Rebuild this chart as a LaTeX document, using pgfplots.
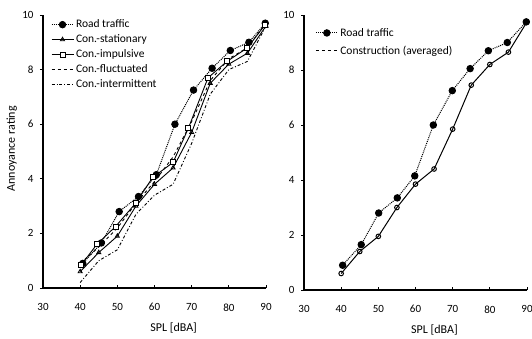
\documentclass[border=0pt]{standalone}
\usepackage{pgfplots}
\pgfplotsset{compat=1.18}
\usepackage{fontspec}
\setmainfont{Carlito}
\begin{document}
\begin{tikzpicture}
\useasboundingbox (0pt,0pt) rectangle (532pt,338pt);
\pgfplotsset{
  myax/.style={
    scale only axis,
    xmin=30, xmax=90, ymin=0, ymax=10,
    xtick={30,40,...,90}, ytick={0,2,...,10},
    axis x line*=bottom, axis y line*=left,
    axis line style={line width=1.3pt,-},
    tick style={black, line width=0.8pt},
    major tick length=3pt,
    xtick align=inside, ytick align=outside,
    tick label style={font=\fontsize{11}{13}\selectfont},
    /pgf/number format/assume math mode=true,
    xticklabel style={yshift=-12pt},
    yticklabel style={xshift=-3pt},
    label style={font=\fontsize{12}{14}\selectfont},
    legend style={draw=none, fill=none, font=\fontsize{11.5}{13}\selectfont, row sep=1.5pt, inner sep=0pt,
      legend cell align=left, nodes={inner xsep=2pt}},
    legend image code/.code={\draw[#1] (0pt,0pt) -- (22pt,0pt); \draw[#1, only marks] plot coordinates {(11pt,0pt)};},
  },
  road/.style={black, densely dotted, line width=1pt, mark=*, mark size=3.2pt, mark options={solid, fill=black}},
}
% left panel
\begin{axis}[myax, at={(43pt,50pt)}, anchor=origin, width=223pt, height=273pt,
  xlabel={SPL [dBA]}, ylabel={Annoyance rating},
  xlabel style={at={(axis description cs:0.586,-0.146)}, anchor=center},
  ylabel style={at={(axis description cs:-0.14,0.51)}, anchor=center},
  legend style={at={(axis description cs:0.035,0.99)}, anchor=north west},
]
\addplot[road] coordinates {(40.7,0.9) (45.7,1.65) (50.5,2.8) (55.7,3.35) (60.5,4.15) (65.5,6.0) (70.5,7.25) (75.5,8.05) (80.4,8.7) (85.4,9.0) (89.8,9.7)};
\addlegendentry{Road traffic}
\addplot[black, line width=0.9pt, mark=triangle, mark size=2.3pt, mark options={fill=white, solid}] coordinates {(40,0.6) (45,1.3) (50,1.9) (55,3.0) (60,3.8) (65,4.4) (70,5.7) (75,7.5) (80,8.2) (85,8.6) (90,9.6)};
\addlegendentry{Con.-stationary}
\addplot[black, line width=0.9pt, mark=square*, mark size=2.5pt, mark options={fill=white, solid}] coordinates {(40.2,0.83) (44.5,1.6) (49.5,2.25) (54.9,3.1) (59.5,4.05) (65,4.6) (69.1,5.85) (74.4,7.7) (79.5,8.3) (85,8.8) (89.8,9.65)};
\addlegendentry{Con.-impulsive}
\addplot[black, line width=0.9pt, dashed] coordinates {(40,0.9) (45,1.5) (50,2.2) (55,3.1) (60,3.9) (65,4.8) (70,6.1) (75,7.6) (80,8.4) (85,8.8) (90,9.7)};
\addlegendentry{Con.-fluctuated}
\addplot[black, line width=0.9pt, dash dot] coordinates {(40,0.2) (45,1.0) (50,1.4) (55,2.7) (60,3.4) (65,3.8) (70,5.3) (75,7.1) (80,8.0) (85,8.3) (90,9.6)};
\addlegendentry{Con.-intermittent}
\end{axis}
% right panel
\begin{axis}[myax, at={(304pt,48pt)}, anchor=origin, width=223pt, height=275pt,
  xlabel={SPL [dBA]},
  xlabel style={at={(axis description cs:0.585,-0.145)}, anchor=center},
  legend style={at={(axis description cs:0.05,0.96)}, anchor=north west, row sep=4pt},
]
\addplot[road] coordinates {(40.4,0.9) (45.4,1.65) (50.1,2.8) (55.1,3.35) (59.8,4.15) (64.8,6.0) (69.9,7.25) (74.7,8.05) (79.6,8.7) (84.7,9.0) (89.8,9.75)};
\addlegendentry{Road traffic}
\addplot[black, line width=1pt, mark=o, mark size=2.3pt, mark options={fill=white, solid},
  legend image code/.code={\draw[black, line width=1pt, dashed] (0pt,0pt) -- (22pt,0pt);}] coordinates {(40,0.6) (45,1.4) (50,1.95) (55,3.0) (60,3.85) (65,4.4) (70,5.85) (75,7.45) (80,8.2) (85,8.65) (90,9.75)};
\addlegendentry{Construction (averaged)}
\end{axis}
\end{tikzpicture}
\end{document}
